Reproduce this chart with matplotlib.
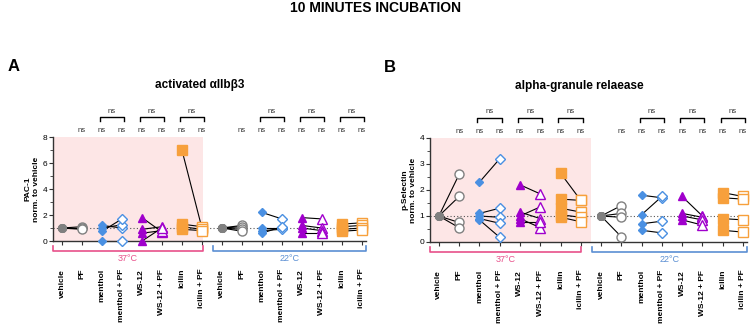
import numpy as np
import matplotlib
matplotlib.use('Agg')
import matplotlib.pyplot as plt
import matplotlib.transforms as mtransforms

plt.rcParams['font.family'] = ['Liberation Sans', 'DejaVu Sans']

# categories (same order for 37 and 22 degrees)
categories = ['vehicle', 'PF', 'menthol', 'menthol + PF', 'WS-12', 'WS-12 + PF', 'icilin', 'icilin + PF']

# panel A: PAC-1 norm. to vehicle, paired values (i-th drug value -> i-th drug + PF value)
pac1_37 = [[1, 1, 1], [1.1, 1.0, 0.9],
           [1.2, 1.0, 0.75, 0.0], [1.0, 1.25, 1.7, 0.0],
           [1.8, 0.9, 0.6, 0.0], [0.7, 1.1, 0.8, 1.0],
           [7.0, 1.3, 1.1, 0.9], [1.0, 1.1, 0.9, 0.8]]
pac1_22 = [[1, 1, 1, 1], [1.2, 1.1, 0.9, 0.75],
           [2.2, 1.0, 0.8, 0.6], [1.7, 1.0, 0.9, 1.1],
           [1.8, 1.2, 1.0, 0.6], [1.7, 1.0, 0.8, 0.6],
           [1.3, 1.1, 0.9, 0.75], [1.4, 1.2, 1.0, 0.85]]

# panel B: p-Selectin norm. to vehicle
psel_37 = [[1, 1, 1, 1], [2.6, 1.75, 0.75, 0.55],
           [2.3, 1.1, 1.0, 0.9, 0.85], [3.2, 1.3, 0.95, 0.72, 0.18],
           [2.2, 1.15, 1.0, 0.9, 0.75], [1.85, 0.9, 1.35, 0.55, 0.75],
           [2.65, 1.65, 1.3, 1.05, 0.95], [1.6, 1.6, 1.15, 0.95, 0.78]]
psel_22 = [[1, 1, 1, 1], [1.4, 1.1, 0.95, 0.2],
           [1.8, 1.05, 0.7, 0.45], [1.7, 1.75, 0.8, 0.35],
           [1.75, 1.1, 1.0, 0.85], [1.0, 0.95, 0.85, 0.65],
           [1.9, 1.7, 0.9, 0.45], [1.75, 1.65, 0.85, 0.38]]

gray = '#808080'
blue = '#4a90e2'
purple = '#a000cc'
orange = '#f7a03c'
pink = '#e8508a'
lblue = '#5b8fd3'

# marker, colour, filled, size for each category
styles = [('o', gray, True, 5.5), ('o', gray, False, 6.5),
          ('D', blue, True, 4.5), ('D', blue, False, 5.5),
          ('^', purple, True, 6), ('^', purple, False, 6.5),
          ('s', orange, True, 6.5), ('s', orange, False, 6.5)]


def draw_group(ax, data, offset):
    for k in range(0, 8, 2):
        a, b = data[k], data[k + 1]
        for ya, yb in zip(a, b):
            ax.plot([offset + k, offset + k + 1], [ya, yb], color='black', lw=0.8, zorder=2,
                    clip_on=False)
    for k in range(8):
        m, c, filled, ms = styles[k]
        ax.plot([offset + k] * len(data[k]), data[k], ls='none', marker=m, ms=ms,
                mfc=c if filled else 'white', mec=c, mew=1.0, zorder=3, clip_on=False)


def draw_panel(ax, d37, d22, ymax, ylabel, pink_end, title, letter):
    ax.axvspan(-0.45, pink_end, color='#fde6e6', zorder=0, lw=0)
    ax.axhline(1, color='#555555', ls=(0, (1, 2)), lw=0.8, zorder=1)
    draw_group(ax, d37, 0)
    draw_group(ax, d22, 8)
    ax.set_xlim(-0.45, 15.2)
    ax.set_ylim(0, ymax)
    ax.set_xticks(np.arange(16))
    ax.set_xticklabels(categories * 2, rotation=90, fontsize=6, fontweight='bold', va='top')
    ax.set_yticks(np.linspace(0, ymax, 5))
    ax.set_yticks(np.linspace(0, ymax, 9), minor=True)
    ax.tick_params(axis='x', length=3, pad=17, color='#333333')
    ax.tick_params(axis='y', which='major', length=3, labelsize=6, pad=1, color='#333333')
    ax.tick_params(axis='y', which='minor', length=2, color='#333333')
    for s in ['top', 'right']:
        ax.spines[s].set_visible(False)
    for s in ['left', 'bottom']:
        ax.spines[s].set_color('#333333')
        ax.spines[s].set_linewidth(1.0)
    ax.set_ylabel(ylabel, fontsize=6, fontweight='bold', labelpad=2)

    tr = mtransforms.blended_transform_factory(ax.transData, ax.transAxes)
    # temperature brackets
    for x0, x1, col, lab in [(-0.45, 7.03, pink, '37°C'), (7.57, 15.2, lblue, '22°C')]:
        ax.plot([x0, x0, x1, x1], [-0.045, -0.095, -0.095, -0.045], color=col, lw=1.2,
                transform=tr, clip_on=False)
        ax.text((x0 + x1) / 2, -0.165, lab, color=col, fontsize=6.5, ha='center', va='center',
                transform=tr)
    # significance labels
    for off in [0, 8]:
        for k in range(1, 8):
            ax.text(off + k, 1.06, 'ns', fontsize=5.5, ha='center', va='center',
                    color='#333333', transform=tr)
        for k in [2, 4, 6]:
            ax.plot([off + k - 0.1, off + k - 0.1, off + k + 1.1, off + k + 1.1],
                    [1.155, 1.19, 1.19, 1.155], color='black', lw=1.0, transform=tr, clip_on=False)
            ax.text(off + k + 0.5, 1.25, 'ns', fontsize=5.5, ha='center', va='center',
                    color='#333333', transform=tr)
    ax.text(0.47, 1.5, title, fontsize=8.5, fontweight='bold', ha='center', va='center',
            transform=ax.transAxes)
    ax.text(-0.145, 1.68, letter, fontsize=12, fontweight='bold', ha='left', va='center',
            transform=ax.transAxes)


fig = plt.figure(figsize=(7.5, 3.26), dpi=100)
axA = fig.add_axes([0.0707, 0.2607, 0.417, 0.319])
axB = fig.add_axes([0.573, 0.2577, 0.423, 0.319])

draw_panel(axA, pac1_37, pac1_22, 8, 'PAC-1\nnorm. to vehicle', 7.05, 'activated αIIbβ3', 'A')
draw_panel(axB, psel_37, psel_22, 4, 'p-Selectin\nnorm. to vehicle', 7.5, 'alpha-granule relaease', 'B')

fig.text(0.5, 0.975, '10 MINUTES INCUBATION', fontsize=10, fontweight='bold', ha='center', va='center')

fig.savefig('out.png', dpi=100)
